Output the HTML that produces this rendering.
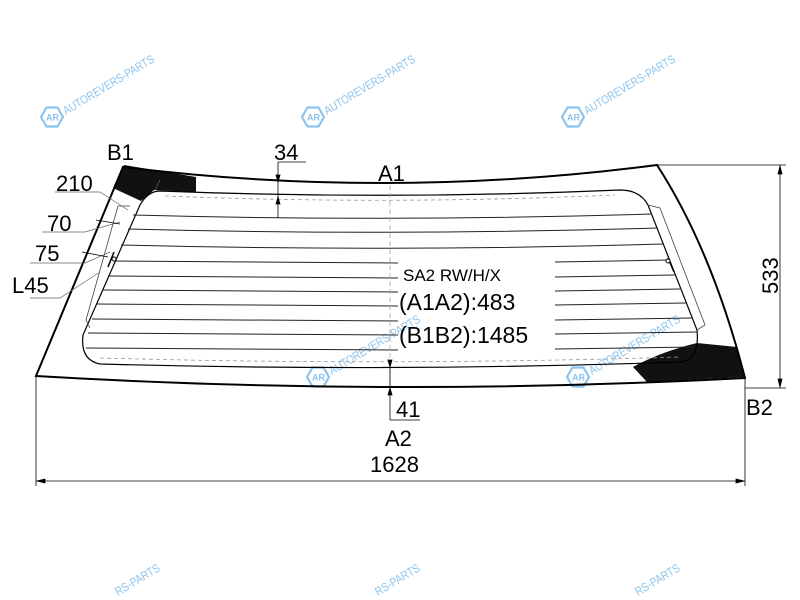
<!DOCTYPE html>
<html><head><meta charset="utf-8"><style>
html,body{margin:0;background:#fff;overflow:hidden;width:800px;height:600px}
svg{display:block;overflow:hidden}
text{font-family:"Liberation Sans",Arial,sans-serif}
</style></head><body>
<svg width="800" height="600" viewBox="0 0 800 600" xmlns="http://www.w3.org/2000/svg">
<defs>
<g id="wm">
 <polygon points="-11,0 -5.5,-9.5 5.5,-9.5 11,0 5.5,9.5 -5.5,9.5" fill="none" stroke="#8cc4ee" stroke-width="2.2"/>
 <text x="-6" y="3.5" font-size="9" fill="#8cc4ee" font-weight="bold">AR</text>
 <text x="14" y="-2" font-size="12" fill="#8cc4ee" transform="rotate(-31 14 -2)" textLength="104" lengthAdjust="spacingAndGlyphs">AUTOREVERS-PARTS</text>
</g>
</defs>
<use href="#wm" x="52" y="117"/>
<use href="#wm" x="313" y="117"/>
<use href="#wm" x="573" y="117"/>
<use href="#wm" x="318" y="377"/>
<use href="#wm" x="578" y="377"/>
<g fill="#8cc4ee" font-size="12">
<text x="118" y="596" transform="rotate(-31 118 596)" textLength="50" lengthAdjust="spacingAndGlyphs">RS-PARTS</text>
<text x="378" y="596" transform="rotate(-31 378 596)" textLength="50" lengthAdjust="spacingAndGlyphs">RS-PARTS</text>
<text x="638" y="596" transform="rotate(-31 638 596)" textLength="50" lengthAdjust="spacingAndGlyphs">RS-PARTS</text>
</g>

<polygon points="124,165 196,177 196,192 154,190 141,201 113,188" fill="#111"/>
<path d="M697,343 L737,347 L745,377 L647,382 L633,367 Q660,352 697,343 Z" fill="#111"/>
<path d="M123,167 Q390,200 657,165 Q712,250 745,378 Q390,397 36,376 Z" fill="none" stroke="#000" stroke-width="2"/>
<path d="M160,191 Q390,200 620,190 Q640,190 648,205 L697,330 Q700,360 680,362 Q390,372 100,364 Q80,360 83,335 L140,205 Q148,191 160,191 Z" fill="none" stroke="#000" stroke-width="1.2"/>
<path d="M165,196 Q390,205 615,195" fill="none" stroke="#999" stroke-width="0.8" stroke-dasharray="4,3"/>
<path d="M100,358 Q390,366 680,357" fill="none" stroke="#999" stroke-width="0.8" stroke-dasharray="4,3"/>
<path d="M130,206 L118,206 L86,320 L90,328" fill="none" stroke="#444" stroke-width="0.8"/>
<path d="M648,205 L660,208 L705,325 L697,330" fill="none" stroke="#444" stroke-width="0.8"/>
<g stroke="#222" stroke-width="1" fill="none">
<path d="M133,215 Q390,222 652,214"/>
<path d="M128,229 Q390,236 657,228"/>
<path d="M121,245 Q390,252 663,244"/>
<path d="M115,261 L398,263"/><path d="M555,262 L669,260"/>
<path d="M108,276 L398,278"/><path d="M555,277 L675,275"/>
<path d="M102,290 L398,292"/><path d="M555,291 L680,289"/>
<path d="M97,304 L398,306"/><path d="M555,305 L686,303"/>
<path d="M92,319 L398,321"/><path d="M555,320 L692,318"/>
<path d="M88,333 L398,335"/><path d="M555,334 L697,332"/>
<path d="M86,348 L398,350"/><path d="M555,349 L695,347"/>
</g>
<line x1="108" y1="267" x2="114" y2="252" stroke="#000" stroke-width="1.5"/>
<circle cx="114" cy="259" r="2" fill="#fff" stroke="#000"/>
<line x1="668" y1="258" x2="674" y2="272" stroke="#000" stroke-width="1.5"/>
<circle cx="668" cy="261" r="2" fill="#fff" stroke="#000"/>

<line x1="390" y1="185" x2="390" y2="388" stroke="#aaa" stroke-width="0.8" stroke-dasharray="5,3"/>
<g stroke="#000" stroke-width="0.8" fill="#000">
<line x1="278" y1="162" x2="278" y2="218"/>
<line x1="278" y1="162" x2="306" y2="162"/>
<polygon points="278,182 276,175 280,175"/>
<polygon points="278,197 276,204 280,204"/>
<line x1="390" y1="360" x2="390" y2="420"/>
<line x1="390" y1="420" x2="420" y2="420"/>
<polygon points="390,367 388,360 392,360"/>
<polygon points="390,388 388,395 392,395"/>
<line x1="657" y1="165" x2="786" y2="165"/>
<line x1="745" y1="388" x2="786" y2="388"/>
<line x1="780" y1="165" x2="780" y2="388"/>
<polygon points="780,166 778,174 782,174"/>
<polygon points="780,387 778,379 782,379"/>
<line x1="36" y1="376" x2="36" y2="486"/>
<line x1="745" y1="378" x2="745" y2="486"/>
<line x1="36" y1="481" x2="745" y2="481"/>
<polygon points="37,481 45,479 45,483"/>
<polygon points="744,481 736,479 736,483"/>
</g>
<g stroke="#666" stroke-width="0.7" fill="none">
<path d="M55,192 L100,192 L128,210"/>
<path d="M42,232 L85,232 L120,222"/>
<path d="M30,263 L85,263 L110,252"/>
<path d="M30,298 L60,298 L100,272"/>
<line x1="155" y1="190" x2="160" y2="180"/>
</g>
<g stroke="#000" stroke-width="0.8" fill="#000">
<line x1="96" y1="220" x2="120" y2="224"/>
<line x1="82" y1="252" x2="108" y2="257"/>
</g>
<g fill="#000" font-size="22">
<text x="107" y="160">B1</text>
<text x="56" y="191">210</text>
<text x="47" y="231">70</text>
<text x="35" y="261">75</text>
<text x="12" y="293">L45</text>
<text x="274" y="160">34</text>
<text x="378" y="181">A1</text>
<text x="396" y="417">41</text>
<text x="385" y="446">A2</text>
<text x="370" y="472">1628</text>
<text x="746" y="415">B2</text>
<text x="399" y="310" font-size="23">(A1A2):483</text>
<text x="399" y="343" font-size="23">(B1B2):1485</text>
<text x="403" y="281" font-size="17">SA2 RW/H/X</text>
<text x="0" y="0" transform="translate(778,294) rotate(-90)">533</text>
</g>
</svg>
</body></html>
